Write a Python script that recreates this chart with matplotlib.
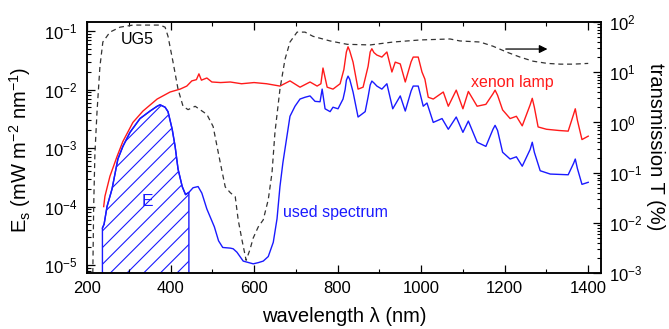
import numpy as np
import matplotlib
matplotlib.use("Agg")
import matplotlib.pyplot as plt
from matplotlib.ticker import LogLocator, MultipleLocator, NullFormatter

plt.rcParams['font.family'] = ['Liberation Sans', 'DejaVu Sans']
plt.rcParams['mathtext.default'] = 'regular'
plt.rcParams['hatch.linewidth'] = 0.8

# xenon lamp spectrum, mW m^-2 nm^-1
lamp_nm = [240, 243, 255, 272, 286, 310, 334, 368, 399, 423, 439, 451, 462, 468, 474,
           480, 487, 499, 520, 543, 570, 600, 630, 662, 686, 710, 734, 751, 760, 765,
           775, 789, 806, 815, 821, 825, 829, 837, 849, 861, 873, 878, 882, 887, 894,
           906, 918, 930, 938, 950, 962, 976, 981, 993, 1002, 1009, 1017, 1029, 1053,
           1065, 1084, 1100, 1113, 1134, 1155, 1172, 1177, 1183, 1195, 1213, 1228, 1242,
           1261, 1266, 1271, 1280, 1300, 1330, 1352, 1365, 1369, 1374, 1385, 1400]
lamp_E = [1.0e-4, 1.5e-4, 3.3e-4, 7.2e-4, 1.3e-3, 2.75e-3, 4.3e-3, 6.9e-3, 9.1e-3, 1.02e-2,
          1.15e-2, 1.41e-2, 1.48e-2, 1.86e-2, 1.45e-2, 1.51e-2, 1.58e-2, 1.35e-2, 1.32e-2,
          1.35e-2, 1.26e-2, 1.32e-2, 1.26e-2, 1.15e-2, 1.41e-2, 1.10e-2, 1.35e-2, 1.15e-2,
          1.26e-2, 2.34e-2, 1.10e-2, 1.02e-2, 1.26e-2, 2.2e-2, 4.4e-2, 5.4e-2, 4.6e-2,
          2.95e-2, 1.02e-2, 1.10e-2, 2.5e-2, 4.4e-2, 5.0e-2, 4.3e-2, 3.9e-2, 3.6e-2, 4.4e-2,
          2.0e-2, 2.95e-2, 2.75e-2, 1.35e-2, 3.0e-2, 3.6e-2, 3.6e-2, 2.0e-2, 1.51e-2,
          7.4e-3, 6.9e-3, 9.1e-3, 5.2e-3, 9.8e-3, 4.7e-3, 9.3e-3, 5.2e-3, 5.6e-3, 8.5e-3,
          9.8e-3, 8.0e-3, 4.5e-3, 3.2e-3, 3.5e-3, 2.4e-3, 5.5e-3, 7.1e-3, 5.0e-3, 2.3e-3,
          2.1e-3, 2.0e-3, 1.95e-3, 3.8e-3, 4.7e-3, 3.0e-3, 1.4e-3, 1.6e-3]

# used spectrum (lamp through UG5)
used_nm = [237, 241, 248, 260, 274, 286, 303, 327, 351, 368, 375, 387, 394, 404, 411, 418,
           428, 436, 444, 454, 466, 475, 487, 505, 515, 525, 543, 550, 559, 574, 598, 610,
           622, 634, 646, 655, 662, 669, 686, 698, 710, 722, 734, 746, 758, 763, 770, 782,
           789, 801, 813, 818, 821, 825, 829, 837, 849, 866, 873, 878, 882, 887, 894, 906,
           918, 932, 950, 962, 976, 981, 993, 1005, 1014, 1029, 1050, 1065, 1084, 1100,
           1113, 1134, 1155, 1172, 1177, 1183, 1195, 1213, 1228, 1242, 1261, 1266, 1271,
           1285, 1309, 1352, 1365, 1369, 1374, 1385, 1400]
used_E = [4.3e-5, 5.0e-5, 1.0e-4, 2.0e-4, 6.5e-4, 1.07e-3, 1.86e-3, 3.2e-3, 4.3e-3, 5.2e-3,
          5.5e-3, 5.0e-3, 4.2e-3, 2.1e-3, 1.07e-3, 4.4e-4, 2.2e-4, 1.6e-4, 1.75e-4, 2.1e-4,
          2.2e-4, 1.7e-4, 9.1e-5, 4.5e-5, 2.6e-5, 2.0e-5, 1.95e-5, 1.9e-5, 1.66e-5, 1.17e-5,
          1.05e-5, 1.1e-5, 1.17e-5, 1.4e-5, 2.45e-5, 6.2e-5, 2.2e-4, 5.6e-4, 3.5e-3, 5.2e-3,
          6.9e-3, 7.4e-3, 7.8e-3, 6.3e-3, 6.2e-3, 1.02e-2, 4.7e-3, 4.2e-3, 5.0e-3, 4.7e-3,
          6.9e-3, 1.0e-2, 1.45e-2, 1.7e-2, 1.5e-2, 9.1e-3, 3.4e-3, 4.2e-3, 7.5e-3, 1.2e-2,
          1.4e-2, 1.3e-2, 1.15e-2, 1.02e-2, 1.26e-2, 4.7e-3, 7.8e-3, 4.3e-3, 9.5e-3, 1.15e-2,
          1.15e-2, 5.2e-3, 5.9e-3, 2.75e-3, 3.2e-3, 2.1e-3, 3.4e-3, 1.86e-3, 2.9e-3, 1.26e-3,
          1.07e-3, 2.1e-3, 2.45e-3, 2.0e-3, 8.5e-4, 6.5e-4, 7.1e-4, 4.9e-4, 9.5e-4, 1.26e-3,
          8.5e-4, 4.1e-4, 3.6e-4, 3.5e-4, 5.5e-4, 6.5e-4, 4.5e-4, 2.4e-4, 2.6e-4]

# UG5 filter transmission, %
ug5_nm = [214, 216, 219, 224, 231, 238, 255, 279, 310, 375, 387, 394, 406, 418, 430, 442,
          459, 487, 502, 519, 531, 543, 555, 562, 571, 581, 590, 598, 610, 622, 634, 643,
          650, 662, 674, 686, 703, 722, 741, 782, 823, 878, 933, 998, 1069, 1093, 1141,
          1172, 1206, 1237, 1268, 1302, 1333, 1364, 1400]
ug5_T = [1.0e-3, 2.0e-2, 0.24, 1.6, 13, 40, 63, 79, 87, 87, 79, 52, 16, 4.6, 2.1, 1.8,
         2.1, 1.45, 0.83, 0.16, 0.052, 0.040, 0.033, 0.0115, 0.0046, 0.0018, 0.0029, 0.005,
         0.0083, 0.0115, 0.029, 0.1, 0.63, 4.6, 18, 40, 63, 63, 52, 42, 36, 35, 40, 44, 46,
         42, 40, 33, 25, 20, 16.6, 15, 14.5, 14.5, 15]

E_cut = 444  # end of integrated range

fig = plt.figure(figsize=(6.69, 3.29), dpi=100)
ax = fig.add_axes([0.130, 0.170, 0.768, 0.763])
ax2 = ax.twinx()

ax.plot(lamp_nm, lamp_E, color='#ff1a1a', lw=1.0)
ax.plot(used_nm, used_E, color='#1a1aff', lw=1.0)

un = np.array(used_nm)
ue = np.array(used_E)
m = un <= E_cut
ax.fill_between(un[m], 1e-7, ue[m], facecolor='none', edgecolor='#1a1aff',
                hatch='//', lw=1.0)

ax2.plot(ug5_nm, ug5_T, color='#333333', lw=0.9, ls=(0, (4, 3)))

ax.set_yscale('log')
ax2.set_yscale('log')
ax.set_xlim(200, 1430)
ax.set_ylim(7.3e-6, 0.143)
ax2.set_ylim(1e-3, 1e2)

ax.xaxis.set_major_locator(MultipleLocator(200))
ax.xaxis.set_minor_locator(MultipleLocator(100))
for a in (ax, ax2):
    a.yaxis.set_major_locator(LogLocator(base=10, numticks=20))
    a.yaxis.set_minor_locator(LogLocator(base=10, subs=np.arange(2, 10), numticks=20))
    a.yaxis.set_minor_formatter(NullFormatter())
    for s in a.spines.values():
        s.set_linewidth(1.1)

ax.tick_params(axis='x', which='both', direction='in', top=True, labelsize=12, pad=6)
ax.tick_params(axis='y', which='both', direction='in', right=False, labelsize=12, pad=7)
ax2.tick_params(axis='y', which='both', direction='in', labelsize=12, pad=6)
for a in (ax, ax2):
    a.tick_params(which='major', length=6, width=0.9)
    a.tick_params(which='minor', length=3, width=0.8)

ax.text(320, 0.073, 'UG5', fontsize=11.5, ha='center', va='center')
ax.text(344, 1.2e-4, 'E', fontsize=12.5, color='#1a1aff', ha='center', va='center')
ax.text(669, 7.8e-5, 'used spectrum', fontsize=11.5, color='#1a1aff', ha='left', va='center')
ax.text(1218, 1.3e-2, 'xenon lamp', fontsize=11.5, color='#ff1a1a', ha='center', va='center')
ax2.annotate('', xy=(1309, 29), xytext=(1196, 29),
             arrowprops=dict(arrowstyle='-|>', color='black', lw=0.9, mutation_scale=12))

fig.text(20 / 669, 0.545, r'E$_s$ (mW m$^{-2}$ nm$^{-1}$)', rotation=90,
         fontsize=14.5, ha='center', va='center')
fig.text(655 / 669, 0.553, 'transmission T (%)', rotation=270,
         fontsize=14.5, ha='center', va='center')
fig.text(344 / 669, 1 - 317 / 329, 'wavelength λ (nm)', fontsize=14.5,
         ha='center', va='center')

fig.savefig('out.png', dpi=100)
